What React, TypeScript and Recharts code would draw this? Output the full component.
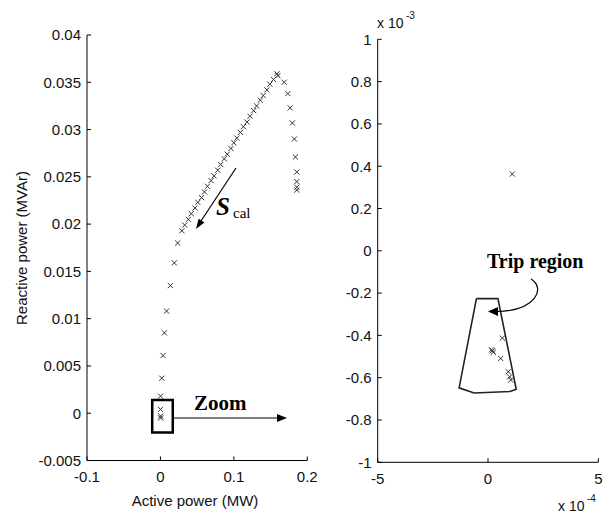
import React from 'react';
import { ScatterChart, Scatter, XAxis, YAxis, ReferenceArea } from 'recharts';

// ---------- Left panel: full trajectory (Active power MW, Reactive power MVAr) ----------
const activePowerMW = [
  0.1857, 0.1857, 0.1857, 0.1857, 0.1838, 0.1824, 0.1797, 0.1766, 0.1735, 0.1685, 0.1600, 0.1586,
  0.154, 0.149, 0.145, 0.140, 0.136, 0.131, 0.127, 0.122, 0.118, 0.113, 0.109, 0.104, 0.100, 0.096,
  0.091, 0.087, 0.082, 0.078, 0.073, 0.069, 0.064, 0.060, 0.056, 0.051, 0.047, 0.042, 0.038, 0.033,
  0.0293, 0.0235, 0.0189, 0.0135, 0.0084, 0.0054, 0.0036, 0.0019, 0.0002, 0.0001, 0.0003, 0.0004,
];
const reactivePowerMVAr = [
  0.0236, 0.0239, 0.0245, 0.0255, 0.0271, 0.0290, 0.0307, 0.0323, 0.0338, 0.0350, 0.0357, 0.0359,
  0.0353, 0.0348, 0.0342, 0.0336, 0.0331, 0.0325, 0.0320, 0.0314, 0.0308, 0.0303, 0.0297, 0.0291, 0.0286, 0.0280,
  0.0274, 0.0269, 0.0263, 0.0257, 0.0251, 0.0246, 0.0240, 0.0234, 0.0228, 0.0223, 0.0217, 0.0211, 0.0205, 0.0199,
  0.0193, 0.0180, 0.0159, 0.0135, 0.0108, 0.0085, 0.0061, 0.0037, 0.0018, 0.0004, -0.0003, -0.0005,
];
const leftXTicks = [-0.1, 0, 0.1, 0.2];
const leftYTicks = [-0.005, 0, 0.005, 0.01, 0.015, 0.02, 0.025, 0.03, 0.035, 0.04];
// zoom box extents
const zoomBoxX = [-0.0112, 0.0168];
const zoomBoxY = [-0.00205, 0.0014];

// ---------- Right panel: zoomed view (active x1e-4 MW, reactive x1e-3 MVAr) ----------
const zoomActive = [1.1, 0.65, 0.2, 0.24, 0.16, 0.575, 0.92, 0.98, 1.03];
const zoomReactive = [0.363, -0.413, -0.473, -0.48, -0.468, -0.509, -0.572, -0.596, -0.611];
// trip region polygon
const tripActive = [-0.525, 0.45, 1.28, 1.0, -0.63, -1.31, -0.525];
const tripReactive = [-0.226, -0.226, -0.655, -0.665, -0.672, -0.648, -0.226];
const rightXTicks = [-5, 0, 5];
const rightYTicks = [-1, -0.8, -0.6, -0.4, -0.2, 0, 0.2, 0.4, 0.6, 0.8, 1];

const leftData = activePowerMW.map((x, i) => ({ x, y: reactivePowerMVAr[i] }));
const zoomData = zoomActive.map((x, i) => ({ x, y: zoomReactive[i] }));
const tripData = tripActive.map((x, i) => ({ x, y: tripReactive[i] }));

const FONT = '"Liberation Sans", Arial, sans-serif';
const SERIF = '"Liberation Serif", "Times New Roman", serif';
const tickStyle = { fontFamily: FONT, fontSize: 15, fill: '#111' };

const XMark = (props: any) => {
  const { cx, cy } = props;
  if (cx == null || cy == null) return <g />;
  const s = 2.6;
  return (
    <g stroke="#333" strokeWidth={1}>
      <line x1={cx - s} y1={cy - s} x2={cx + s} y2={cy + s} />
      <line x1={cx - s} y1={cy + s} x2={cx + s} y2={cy - s} />
    </g>
  );
};
const NoMark = () => <g />;

export default function App() {
  return (
    <div style={{ position: 'absolute', left: 0, top: 0, width: 613, height: 513, background: '#fff' }}>
      <div style={{ position: 'absolute', left: 0, top: 0 }}>
        <ScatterChart width={330} height={513} margin={{ top: 35, right: 22.7, bottom: 22.5, left: 27 }}>
          <XAxis
            type="number"
            dataKey="x"
            domain={[-0.1, 0.2]}
            ticks={leftXTicks}
            interval={0}
            height={30}
            tickSize={-4}
            tickMargin={15}
            stroke="#000"
            tick={tickStyle}
            tickLine={{ stroke: '#000' }}
            allowDataOverflow
          />
          <YAxis
            type="number"
            dataKey="y"
            domain={[-0.005, 0.04]}
            ticks={leftYTicks}
            interval={0}
            width={60}
            tickSize={-4}
            tickMargin={10}
            stroke="#000"
            tick={tickStyle}
            tickLine={{ stroke: '#000' }}
            allowDataOverflow
          />
          <ReferenceArea
            x1={zoomBoxX[0]}
            x2={zoomBoxX[1]}
            y1={zoomBoxY[0]}
            y2={zoomBoxY[1]}
            fill="none"
            stroke="#000"
            strokeWidth={2.5}
          />
          <Scatter data={leftData} shape={XMark} isAnimationActive={false} />
        </ScatterChart>
      </div>
      <div style={{ position: 'absolute', left: 330, top: 0 }}>
        <ScatterChart width={283} height={513} margin={{ top: 39.3, right: 14.7, bottom: 20.7, left: 7.7 }}>
          <XAxis
            type="number"
            dataKey="x"
            domain={[-5, 5]}
            ticks={rightXTicks}
            interval={0}
            height={30}
            tickSize={-4}
            tickMargin={15}
            stroke="#000"
            tick={tickStyle}
            tickLine={{ stroke: '#000' }}
            allowDataOverflow
          />
          <YAxis
            type="number"
            dataKey="y"
            domain={[-1, 1]}
            ticks={rightYTicks}
            interval={0}
            width={40}
            tickSize={-4}
            tickMargin={10}
            stroke="#000"
            tick={tickStyle}
            tickLine={{ stroke: '#000' }}
            allowDataOverflow
          />
          <Scatter
            data={tripData}
            shape={NoMark}
            line={{ stroke: '#222', strokeWidth: 1.6 }}
            lineType="joint"
            isAnimationActive={false}
          />
          <Scatter data={zoomData} shape={XMark} isAnimationActive={false} />
        </ScatterChart>
      </div>
      <svg
        width={613}
        height={513}
        style={{ position: 'absolute', left: 0, top: 0, pointerEvents: 'none' }}
      >
        {/* axis titles */}
        <text
          x={0}
          y={0}
          transform="translate(27,248) rotate(-90)"
          textAnchor="middle"
          fontFamily={FONT}
          fontSize={15}
          fill="#111"
        >
          Reactive power (MVAr)
        </text>
        <text x={195} y={506} textAnchor="middle" fontFamily={FONT} fontSize={15} fill="#111">
          Active power (MW)
        </text>
        {/* exponent labels */}
        <text x={377} y={28} fontFamily={FONT} fontSize={14} fill="#111">x 10</text>
        <text x={406} y={19} fontFamily={FONT} fontSize={10} fill="#111">-3</text>
        <text x={558} y={511} fontFamily={FONT} fontSize={14} fill="#111">x 10</text>
        <text x={587} y={502} fontFamily={FONT} fontSize={10} fill="#111">-4</text>

        {/* Zoom annotation */}
        <text x={194} y={410} fontFamily={SERIF} fontWeight="bold" fontSize={21} fill="#000">Zoom</text>
        <line x1={172} y1={418} x2={278} y2={418} stroke="#000" strokeWidth={1.2} />
        <polygon points="287,418 277,414 277,422" fill="#000" />

        {/* S_cal annotation */}
        <line x1={236} y1={168} x2={201} y2={221} stroke="#000" strokeWidth={1.2} />
        <polygon points="196,229 204.4,222.5 198.6,218.7" fill="#000" />
        <text x={216} y={215} fontFamily={SERIF} fontWeight="bold" fontStyle="italic" fontSize={25} fill="#000">S</text>
        <text x={233} y={218} fontFamily={SERIF} fontSize={15} fill="#000">cal</text>

        {/* Trip region annotation */}
        <text x={487} y={268} fontFamily={SERIF} fontWeight="bold" fontSize={20} fill="#000">Trip region</text>
        <path d="M 531 279 C 546 288, 536 311, 497 311.5" fill="none" stroke="#000" strokeWidth={1.2} />
        <polygon points="488,311.5 498,307 498,316" fill="#000" />
      </svg>
    </div>
  );
}
